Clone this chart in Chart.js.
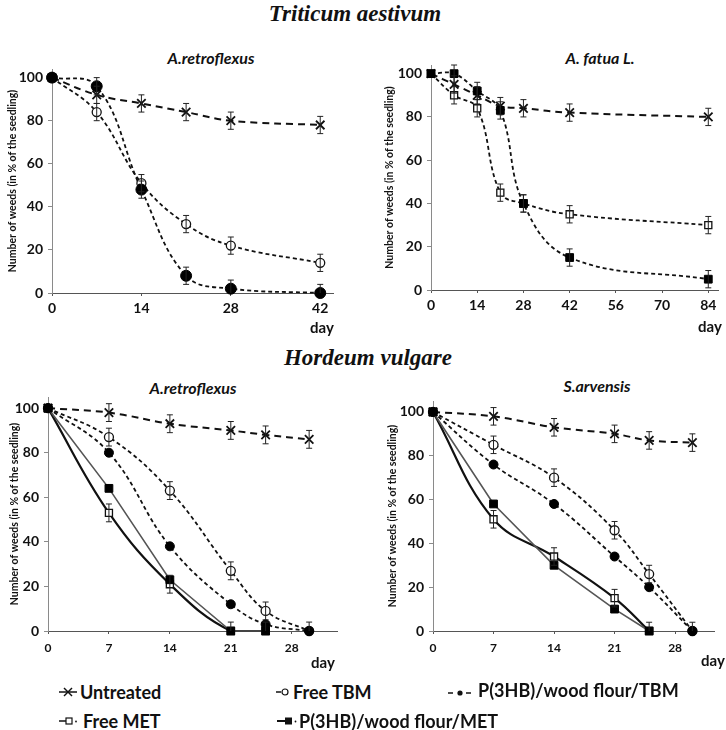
<!DOCTYPE html>
<html>
<head>
<meta charset="utf-8">
<script src="https://cdn.jsdelivr.net/npm/chart.js@4.4.0/dist/chart.umd.min.js"></script>
<style>
  body { margin: 0; background: #fff; }
  #page { position: relative; width: 726px; height: 730px; background: #fff; overflow: hidden; color: #111; font-family: Lato, sans-serif; }
  canvas { position: absolute; }
  .t { position: absolute; transform: translate(-50%, -50%); white-space: nowrap; }
  .main { font: italic bold 23px "Liberation Serif", serif; }
  .sub { font: italic bold 16px Lato, sans-serif; }
  .day { font: bold 15px Lato, sans-serif; }
  .leg { position: absolute; transform: translateY(-50%); white-space: nowrap; font: bold 18px Lato, sans-serif; }
  .icon { position: absolute; }
</style>
</head>
<body>
<div id="page">
  <div class="t main" style="left:355px;top:14px">Triticum aestivum</div>
  <div class="t main" style="left:368px;top:358px">Hordeum vulgare</div>

  <div class="t sub" style="left:211px;top:57px">A.retroflexus</div>
  <div class="t sub" style="left:600px;top:57px">A. fatua L.</div>
  <div class="t sub" style="left:193px;top:387px">A.retroflexus</div>
  <div class="t sub" style="left:597px;top:385px">S.arvensis</div>

  <canvas id="c1" width="363" height="300" style="left:0;top:40px"></canvas>
  <canvas id="c2" width="363" height="300" style="left:363px;top:40px"></canvas>
  <canvas id="c3" width="363" height="310" style="left:0;top:360px"></canvas>
  <canvas id="c4" width="363" height="310" style="left:363px;top:360px"></canvas>

  <div class="t day" style="left:322px;top:327px">day</div>
  <div class="t day" style="left:710px;top:326px">day</div>
  <div class="t day" style="left:323px;top:662px">day</div>
  <div class="t day" style="left:713px;top:660px">day</div>

  <!-- legend -->
  <svg class="icon" style="left:59px;top:686px" width="18" height="12">
    <line x1="0" y1="6" x2="18" y2="6" stroke="#111" stroke-width="1.5"/>
    <line x1="5" y1="2" x2="13" y2="10" stroke="#111" stroke-width="1.5"/>
    <line x1="5" y1="10" x2="13" y2="2" stroke="#111" stroke-width="1.5"/>
  </svg>
  <div class="leg" style="left:80px;top:692px">Untreated</div>

  <svg class="icon" style="left:276px;top:686px" width="14" height="12">
    <line x1="0" y1="6" x2="5" y2="6" stroke="#111" stroke-width="1.5"/>
    <circle cx="9" cy="6" r="3" fill="#fff" stroke="#111" stroke-width="1.2"/>
  </svg>
  <div class="leg" style="left:293px;top:692px">Free TBM</div>

  <svg class="icon" style="left:448px;top:686px" width="24" height="12">
    <line x1="0" y1="7" x2="5" y2="7" stroke="#111" stroke-width="1.5"/>
    <circle cx="12" cy="7" r="2.6" fill="#111"/>
    <line x1="18" y1="7" x2="23" y2="7" stroke="#111" stroke-width="1.5"/>
  </svg>
  <div class="leg" style="left:478px;top:690px">P(3HB)/wood flour/TBM</div>

  <svg class="icon" style="left:59px;top:715px" width="20" height="12">
    <line x1="0" y1="6" x2="7" y2="6" stroke="#111" stroke-width="1.5"/>
    <rect x="7" y="3" width="6" height="6" fill="#fff" stroke="#111" stroke-width="1.2"/>
    <circle cx="17" cy="6.5" r="0.9" fill="#111"/>
  </svg>
  <div class="leg" style="left:83px;top:721px">Free MET</div>

  <svg class="icon" style="left:277px;top:715px" width="20" height="12">
    <line x1="0" y1="6" x2="8" y2="6" stroke="#111" stroke-width="2"/>
    <rect x="8" y="2.5" width="7" height="7" fill="#111"/>
    <circle cx="18.5" cy="6.5" r="0.9" fill="#111"/>
  </svg>
  <div class="leg" style="left:299px;top:721px">P(3HB)/wood flour/MET</div>
</div>

<script>
// ---- data ----
const yTicks = [0, 20, 40, 60, 80, 100];
const yTitle = 'Number of weeds (in % of the seedling)';

// Triticum aestivum / A.retroflexus
const days1 = [0, 7, 14, 21, 28, 42];
const xTicks1 = [0, 14, 28, 42];
const untreated1 = [100, 92, 88, 84, 80, 78];
const untreated1Err = [0, 4, 4, 4, 4, 4];
const freeTbm1 = [100, 84, 51, 32, 22, 14];
const freeTbm1Err = [0, 4, 4, 4, 4, 4];
const pTbm1 = [100, 96, 48, 8, 2, 0];
const pTbm1Err = [0, 4, 4, 4, 4, 4];

// Triticum aestivum / A. fatua L.
const days2 = [0, 7, 14, 21, 28, 42, 84];
const xTicks2 = [0, 14, 28, 42, 56, 70, 84];
const untreated2 = [100, 95, 90, 85, 84, 82, 80];
const untreated2Err = [0, 4, 4, 4, 4, 4, 4];
const freeMet2 = [100, 90, 84, 45, 40, 35, 30];
const freeMet2Err = [0, 4, 4, 4, 4, 4, 4];
const pMet2 = [100, 100, 92, 83, 40, 15, 5];
const pMet2Err = [0, 4, 4, 4, 4, 4, 4];

// Hordeum vulgare / A.retroflexus
const days3 = [0, 7, 14, 21, 25, 30];
const days3Met = [0, 7, 14, 21, 25];
const xTicks3 = [0, 7, 14, 21, 28];
const untreated3 = [100, 98, 93, 90, 88, 86];
const untreated3Err = [0, 4, 4, 4, 4, 4];
const freeTbm3 = [100, 87, 63, 27, 9, 0];
const freeTbm3Err = [0, 4, 4, 4, 4, 4];
const pTbm3 = [100, 80, 38, 12, 3, 0];
const freeMet3 = [100, 53, 21, 0, 0];
const freeMet3Err = [0, 4, 4, 4, 4];
const pMet3 = [100, 64, 23, 0, 0];

// Hordeum vulgare / S.arvensis
const days4 = [0, 7, 14, 21, 25, 30];
const days4Met = [0, 7, 14, 21, 25];
const untreated4 = [100, 98, 93, 90, 87, 86];
const untreated4Err = [0, 4, 4, 4, 4, 4];
const freeTbm4 = [100, 85, 70, 46, 26, 0];
const freeTbm4Err = [0, 4, 4, 4, 4, 4];
const pTbm4 = [100, 76, 58, 34, 20, 0];
const freeMet4 = [100, 51, 34, 15, 0];
const freeMet4Err = [0, 4, 4, 4, 4];
const pMet4 = [100, 58, 30, 10, 0];

Chart.defaults.font.family = 'Lato, sans-serif';
Chart.defaults.color = '#111';

function pts(days, vals) {
  return days.map((d, i) => ({ x: d, y: vals[i] }));
}

// vertical error bars, placed with the chart's scales
const errorBars = {
  id: 'errorBars',
  afterDatasetsDraw(chart) {
    const ctx = chart.ctx, xs = chart.scales.x, ys = chart.scales.y;
    ctx.save();
    ctx.strokeStyle = '#222';
    ctx.lineWidth = 1;
    chart.data.datasets.forEach(ds => {
      if (!ds.errors) return;
      ds.data.forEach((p, j) => {
        const e = ds.errors[j];
        if (!e) return;
        const px = xs.getPixelForValue(p.x);
        const y1 = ys.getPixelForValue(p.y + e);
        const y2 = ys.getPixelForValue(Math.max(p.y - e, 0));
        ctx.beginPath();
        ctx.moveTo(px, y1); ctx.lineTo(px, y2);
        ctx.moveTo(px - 3, y1); ctx.lineTo(px + 3, y1);
        if (p.y - e > 0) { ctx.moveTo(px - 3, y2); ctx.lineTo(px + 3, y2); }
        ctx.stroke();
      });
    });
    ctx.restore();
  }
};

function untreatedDs(days, vals, errs) {
  return { label: 'Untreated', data: pts(days, vals), errors: errs,
    borderColor: '#111', borderWidth: 2, borderDash: [7, 5], tension: 0.4,
    pointStyle: 'crossRot', pointRadius: 6, pointBorderWidth: 1.8,
    pointBorderColor: '#111', pointBackgroundColor: '#111', clip: false };
}
function freeTbmDs(days, vals, errs) {
  return { label: 'Free TBM', data: pts(days, vals), errors: errs,
    borderColor: '#111', borderWidth: 1.8, borderDash: [4, 3], tension: 0.4,
    pointStyle: 'circle', pointRadius: 4.5, pointBorderWidth: 1.3,
    pointBorderColor: '#111', pointBackgroundColor: '#fff', clip: false };
}
function pTbmDs(days, vals, errs, r) {
  return { label: 'P(3HB)/wood flour/TBM', data: pts(days, vals), errors: errs,
    borderColor: '#111', borderWidth: 1.8, borderDash: [4, 3], tension: 0.4,
    pointStyle: 'circle', pointRadius: r, pointBorderWidth: 1,
    pointBorderColor: '#000', pointBackgroundColor: '#000', clip: false };
}
function freeMetDs(days, vals, errs, solid) {
  return { label: 'Free MET', data: pts(days, vals), errors: errs,
    borderColor: '#111', borderWidth: solid ? 2.2 : 1.8, borderDash: solid ? [] : [4, 3], tension: 0.4,
    pointStyle: 'rect', pointRadius: 5, pointBorderWidth: 1.3,
    pointBorderColor: '#111', pointBackgroundColor: '#fff', clip: false };
}
function pMetDs(days, vals, errs, solid) {
  return { label: 'P(3HB)/wood flour/MET', data: pts(days, vals), errors: errs,
    borderColor: solid ? '#555' : '#111', borderWidth: solid ? 1.6 : 1.8, borderDash: solid ? [] : [4, 3],
    tension: solid ? 0 : 0.4,
    pointStyle: 'rect', pointRadius: 5.5, pointBorderWidth: 1,
    pointBorderColor: '#000', pointBackgroundColor: '#000', clip: false };
}

function makePanel(id, p, datasets) {
  const cv = document.getElementById(id);
  const W = cv.width, H = cv.height;
  return new Chart(cv, {
    type: 'line',
    data: { datasets: datasets },
    options: {
      responsive: false,
      animation: false,
      layout: { padding: { top: p.top, right: W - p.right, left: 0, bottom: 0 } },
      plugins: { legend: { display: false }, tooltip: { enabled: false } },
      scales: {
        x: {
          type: 'linear', min: 0, max: p.xMax,
          afterBuildTicks: s => { s.ticks = p.xTicks.map(v => ({ value: v })); },
          afterFit: s => { s.height = H - p.bottom; },
          border: { color: '#555', width: 1 },
          grid: { drawOnChartArea: false, tickLength: 3, color: '#555' },
          ticks: { padding: p.xPad, color: '#111', maxRotation: 0, autoSkip: false,
                   font: { size: p.xFont, weight: 'bold' } }
        },
        y: {
          min: 0, max: p.yMax,
          afterBuildTicks: s => { s.ticks = yTicks.map(v => ({ value: v })); },
          afterFit: s => { s.width = p.left; },
          border: { color: '#8a8a8a', width: 1 },
          grid: { drawOnChartArea: false, tickLength: 4, color: '#8a8a8a' },
          ticks: { padding: 5, color: '#111', font: { size: 14, weight: 'bold' } },
          title: { display: true, text: yTitle, color: '#111',
                   font: { size: 10.5, weight: 'bold' }, padding: { top: p.yTitleX - 6.3, bottom: 0 } }
        }
      }
    },
    plugins: [errorBars]
  });
}

// the first dataset is drawn on top, so filled markers come first
makePanel('c1', { left: 52, right: 333, top: 29, bottom: 253, xMax: 44, yMax: 104,
                  xTicks: xTicks1, xFont: 14, xPad: 4, yTitleX: 13 }, [
  pTbmDs(days1, pTbm1, pTbm1Err, 5.5),
  freeTbmDs(days1, freeTbm1, freeTbm1Err),
  untreatedDs(days1, untreated1, untreated1Err)
]);

makePanel('c2', { left: 68, right: 359, top: 25, bottom: 250, xMax: 87, yMax: 104,
                  xTicks: xTicks2, xFont: 14, xPad: 4, yTitleX: 27 }, [
  pMetDs(days2, pMet2, pMet2Err, false),
  freeMetDs(days2, freeMet2, freeMet2Err, false),
  untreatedDs(days2, untreated2, untreated2Err)
]);

makePanel('c3', { left: 48, right: 337, top: 37, bottom: 271, xMax: 33.2, yMax: 105,
                  xTicks: xTicks3, xFont: 12, xPad: 7, yTitleX: 15 }, [
  pMetDs(days3Met, pMet3, null, true),
  freeMetDs(days3Met, freeMet3, freeMet3Err, true),
  pTbmDs(days3, pTbm3, null, 4.5),
  freeTbmDs(days3, freeTbm3, freeTbm3Err),
  untreatedDs(days3, untreated3, untreated3Err)
]);

makePanel('c4', { left: 70, right: 351, top: 41, bottom: 271, xMax: 32.5, yMax: 105,
                  xTicks: xTicks3, xFont: 12, xPad: 7, yTitleX: 30 }, [
  pMetDs(days4Met, pMet4, null, true),
  freeMetDs(days4Met, freeMet4, freeMet4Err, true),
  pTbmDs(days4, pTbm4, null, 4.5),
  freeTbmDs(days4, freeTbm4, freeTbm4Err),
  untreatedDs(days4, untreated4, untreated4Err)
]);
</script>
</body>
</html>
